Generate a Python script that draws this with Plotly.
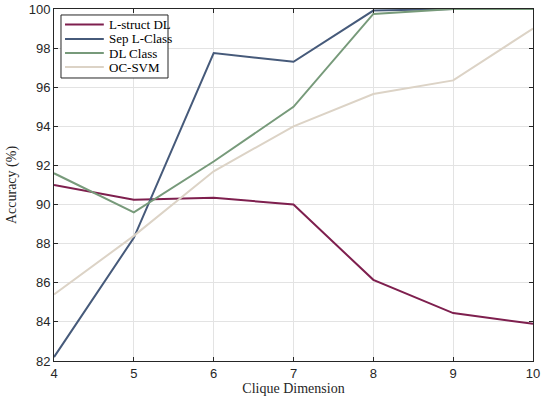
import plotly.graph_objects as go

x = [4, 5, 6, 7, 8, 9, 10]
lstruct = [91.0, 90.25, 90.35, 90.0, 86.15, 84.45, 83.9]
sep = [82.2, 88.3, 97.75, 97.3, 99.92, 100.0, 100.0]
dlclass = [91.6, 89.6, 92.2, 95.0, 99.75, 100.0, 100.0]
ocsvm = [85.4, 88.4, 91.7, 94.0, 95.65, 96.35, 99.0]

names = ["L-struct DL", "Sep L-Class", "DL Class", "OC-SVM"]
colors = ["#7E1F4E", "#465A7A", "#779A7A", "#DCD3C6"]
series = [lstruct, sep, dlclass, ocsvm]

fig = go.Figure()
for n, c, s in zip(names, colors, series):
    fig.add_trace(go.Scatter(x=x, y=s, mode="lines", name=n, showlegend=False,
                             line=dict(color=c, width=2), cliponaxis=False))

serif = "Liberation Serif"

# custom compact legend (paper coordinates of plot area)
shapes = [dict(type="rect", xref="paper", yref="paper", x0=0.0146, x1=0.238,
               y0=0.804, y1=0.983, fillcolor="white",
               line=dict(color="#262626", width=1), layer="above")]
annotations = []
rows = [0.956, 0.915, 0.875, 0.835]
for n, c, ry in zip(names, colors, rows):
    shapes.append(dict(type="line", xref="paper", yref="paper", x0=0.023, x1=0.104,
                       y0=ry, y1=ry, line=dict(color=c, width=2), layer="above"))
    annotations.append(dict(text=n, xref="paper", yref="paper", x=0.111, y=ry,
                            xanchor="left", yanchor="middle", showarrow=False,
                            font=dict(family=serif, size=13, color="#000")))

fig.update_layout(
    width=541, height=405,
    margin=dict(l=54, r=8, t=9, b=44),
    paper_bgcolor="white", plot_bgcolor="white",
    font=dict(family="Liberation Sans", size=13, color="#262626"),
    showlegend=False,
    shapes=shapes, annotations=annotations,
    xaxis=dict(range=[4, 10], tickvals=x, showgrid=True, gridcolor="#E3E3E3",
               showline=True, linecolor="#262626", linewidth=1, mirror="ticks",
               ticks="inside", ticklen=4, tickcolor="#262626", zeroline=False,
               automargin=False,
               title=dict(text="Clique Dimension", font=dict(family=serif, size=14, color="#262626"), standoff=2)),
    yaxis=dict(range=[82, 100], tickvals=list(range(82, 101, 2)), showgrid=True, gridcolor="#E3E3E3",
               showline=True, linecolor="#262626", linewidth=1, mirror="ticks",
               ticks="inside", ticklen=4, tickcolor="#262626", zeroline=False,
               automargin=False,
               title=dict(text="Accuracy (%)", font=dict(family=serif, size=14, color="#262626"), standoff=8)),
)
fig.write_html("out.html", config={"displayModeBar": False})
with open("out.html", encoding="utf-8") as f:
    html = f.read()
html = html.replace("<body>", '<body style="margin:0;padding:0">', 1)
with open("out.html", "w", encoding="utf-8") as f:
    f.write(html)
